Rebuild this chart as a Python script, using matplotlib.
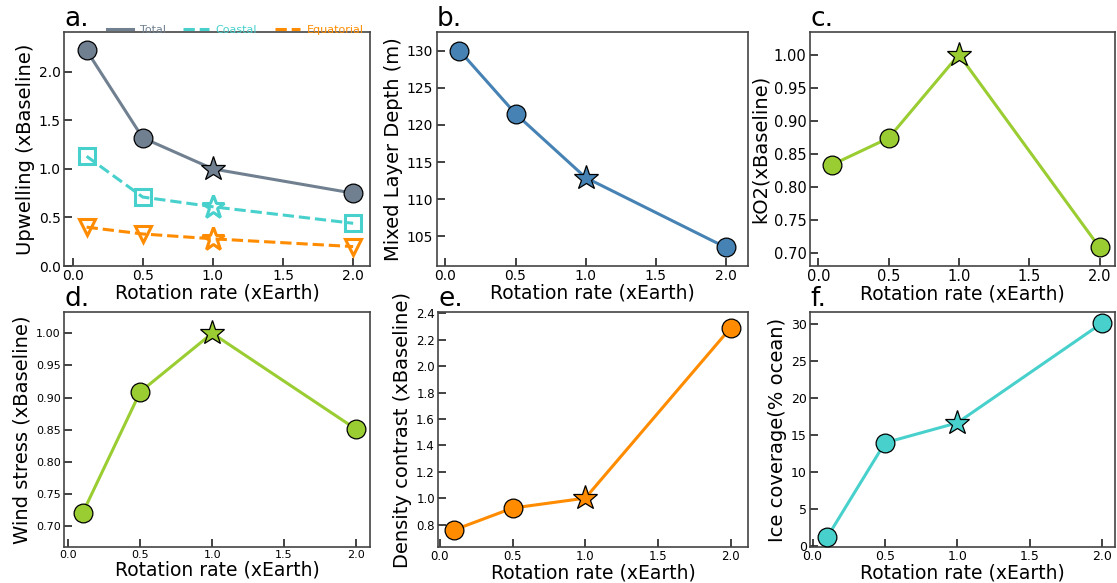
import matplotlib
matplotlib.use("Agg")
import matplotlib.pyplot as plt
from matplotlib.lines import Line2D

rotation = [0.1, 0.5, 1.0, 2.0]
upw_total = [2.22, 1.32, 1.00, 0.75]
upw_coastal = [1.13, 0.71, 0.61, 0.44]
upw_equatorial = [0.40, 0.33, 0.28, 0.20]
mld = [130.0, 121.5, 112.9, 103.5]
ko2 = [0.834, 0.874, 1.00, 0.709]
wind = [0.721, 0.909, 1.00, 0.851]
density = [0.76, 0.925, 1.00, 2.29]
ice = [1.1, 13.9, 16.6, 30.1]

C_TOTAL = "#708090"
C_TURQ = "#48D1CC"
C_ORANGE = "#FF8C00"
C_BLUE = "#4682B4"
C_GREEN = "#9ACD32"

W, H = 1117, 583
fig = plt.figure(figsize=(W / 100, H / 100), dpi=100)


def make_ax(l, r, t, b):
    return fig.add_axes([l / W, (H - b) / H, (r - l) / W, (b - t) / H])


def style(ax, tick_fs, xlim, ylim, ylabel, letter):
    ax.set_xlim(*xlim)
    ax.set_ylim(*ylim)
    ax.tick_params(direction="in", length=6, width=1.2, labelsize=tick_fs,
                   top=False, right=False, color="#222222", pad=2.5)
    for s in ax.spines.values():
        s.set_color("#444444")
        s.set_linewidth(1.2)
    ax.set_xticks([0.0, 0.5, 1.0, 1.5, 2.0])
    ax.set_xlabel("Rotation rate (xEarth)", fontsize=13.5, labelpad=0)
    ax.set_ylabel(ylabel, fontsize=14, labelpad=3)
    ax.text(0.0, 1.0, letter, transform=ax.transAxes, fontsize=19,
            ha="left", va="bottom")


def plot_series(ax, y, color, ms=13.5):
    ax.plot(rotation, y, color=color, lw=2.2, zorder=1)
    xs = [x for x in rotation if x != 1.0]
    ys = [v for x, v in zip(rotation, y) if x != 1.0]
    ax.plot(xs, ys, "o", color=color, mec="black", mew=0.9, ms=ms, zorder=3)
    i = rotation.index(1.0)
    ax.plot([1.0], [y[i]], "*", color=color, mec="black", mew=0.9,
            ms=ms + 5, zorder=3)


# a
axa = make_ax(64.3, 370, 32, 266)
plot_series(axa, upw_total, C_TOTAL)
axa.plot(rotation, upw_coastal, "--", color=C_TURQ, lw=2.2, zorder=1)
axa.plot([x for x in rotation if x != 1.0],
         [v for x, v in zip(rotation, upw_coastal) if x != 1.0],
         "s", mfc="none", mec=C_TURQ, mew=2.2, ms=12)
axa.plot([1.0], [upw_coastal[2]], "*", mfc="none", mec=C_TURQ, mew=2.2, ms=17)
axa.plot(rotation, upw_equatorial, "--", color=C_ORANGE, lw=2.2, zorder=1)
axa.plot([x for x in rotation if x != 1.0],
         [v for x, v in zip(rotation, upw_equatorial) if x != 1.0],
         "v", mfc="none", mec=C_ORANGE, mew=2.2, ms=12)
axa.plot([1.0], [upw_equatorial[2]], "*", mfc="none", mec=C_ORANGE, mew=2.2, ms=17)
style(axa, 10, (-0.059, 2.12), (0.0, 2.41), "Upwelling (xBaseline)", "a.")
axa.set_yticks([0.0, 0.5, 1.0, 1.5, 2.0])
handles = [Line2D([], [], color=C_TOTAL, lw=2.2, ls="-"),
           Line2D([], [], color=C_TURQ, lw=2.2, ls="--"),
           Line2D([], [], color=C_ORANGE, lw=2.2, ls="--")]
axa.legend(handles, ["Total", "Coastal", "Equatorial"], ncol=3, frameon=False,
           loc="lower right", bbox_to_anchor=(0.995, 0.97), fontsize=8,
           labelcolor=[C_TOTAL, C_TURQ, C_ORANGE], handlelength=2.3,
           columnspacing=1.6, handletextpad=0.6, borderaxespad=0.0)

# b
axb = make_ax(436.7, 748.3, 32, 266)
plot_series(axb, mld, C_BLUE)
style(axb, 10, (-0.062, 2.16), (101.0, 132.5), "Mixed Layer Depth (m)", "b.")
axb.set_yticks([105, 110, 115, 120, 125, 130])

# c
axc = make_ax(810, 1115, 32, 266)
plot_series(axc, ko2, C_GREEN)
style(axc, 10.5, (-0.059, 2.11), (0.681, 1.034), "kO2(xBaseline)", "c.")
axc.set_yticks([0.70, 0.75, 0.80, 0.85, 0.90, 0.95, 1.00])

# d
axd = make_ax(64.3, 370, 312, 547)
plot_series(axd, wind, C_GREEN)
style(axd, 8, (-0.028, 2.097), (0.668, 1.033), "Wind stress (xBaseline)", "d.")
axd.set_yticks([0.70, 0.75, 0.80, 0.85, 0.90, 0.95, 1.00])

# e
axe = make_ax(438.3, 747.7, 312, 547)
plot_series(axe, density, C_ORANGE)
style(axe, 8.5, (-0.011, 2.117), (0.63, 2.41), "Density contrast (xBaseline)", "e.")
axe.set_yticks([0.8, 1.0, 1.2, 1.4, 1.6, 1.8, 2.0, 2.2, 2.4])

# f
axf = make_ax(810.3, 1115, 312, 547)
plot_series(axf, ice, C_TURQ)
style(axf, 9, (-0.016, 2.09), (-0.2, 31.6), "Ice coverage(% ocean)", "f.")
axf.set_yticks([0, 5, 10, 15, 20, 25, 30])

fig.savefig("out.png", dpi=100)
